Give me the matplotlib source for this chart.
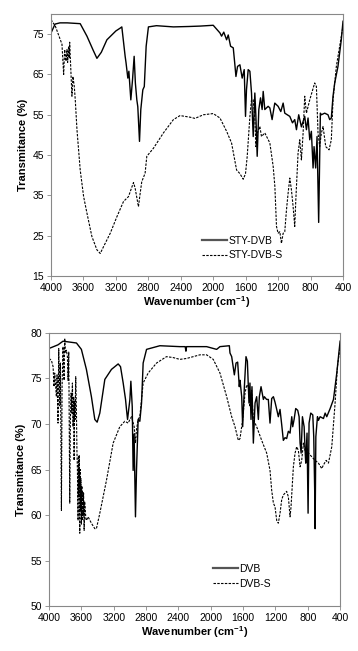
import matplotlib
matplotlib.use('Agg')
import matplotlib.pyplot as plt

plt.rcParams['font.family'] = ['Liberation Sans', 'DejaVu Sans']
plt.rcParams['mathtext.fontset'] = 'custom'
plt.rcParams['mathtext.rm'] = 'Liberation Sans'
plt.rcParams['mathtext.bf'] = 'Liberation Sans:bold'

# ---- top panel: STY-DVB / STY-DVB-S ----
sty_w = [4000, 3950, 3890, 3800, 3640, 3557, 3480, 3434, 3380, 3311, 3200, 3147, 3127,
         3086, 3075, 3053, 3040, 3016, 2995, 2975, 2960, 2942, 2930, 2909, 2893,
         2868, 2850, 2827, 2799, 2700, 2491, 2300, 2163, 2000, 1917, 1897, 1870,
         1835, 1815, 1786, 1753, 1733, 1720, 1700, 1671, 1643, 1618, 1602, 1590,
         1569, 1548, 1528, 1507, 1487, 1474, 1458, 1438, 1417, 1397, 1384, 1364,
         1323, 1302, 1274, 1261, 1241, 1200, 1167, 1138, 1118, 1056, 1023, 995,
         974, 946, 913, 872, 851, 831, 810, 790, 769, 757, 737, 720, 700, 679,
         667, 626, 585, 564, 544, 523, 502, 462, 421, 400]
sty_t = [75.3, 77.5, 77.8, 77.8, 77.6, 74.5, 71.0, 69.0, 70.5, 73.6, 75.8, 76.5, 76.8,
         69.5, 67.9, 64.1, 65.8, 58.7, 63.7, 69.5, 62.9, 58.7, 57.0, 48.4, 56.3,
         61.2, 62.0, 72.0, 76.8, 77.1, 76.8, 76.9, 77.0, 77.2, 75.3, 74.5, 75.5,
         73.6, 74.8, 72.0, 71.6, 67.4, 64.5, 67.0, 67.4, 64.1, 66.2, 54.6, 61.2,
         66.2, 65.8, 60.4, 49.6, 60.4, 54.6, 44.7, 56.3, 59.2, 56.3, 60.8, 56.3,
         57.1, 56.7, 53.8, 55.5, 57.9, 57.1, 55.8, 57.9, 55.4, 54.6, 53.0, 53.8,
         51.3, 55.0, 52.0, 54.6, 51.3, 54.2, 48.8, 50.9, 41.8, 47.1, 41.8, 49.6,
         28.3, 55.4, 55.0, 55.4, 55.0, 53.8, 54.2, 59.6, 62.9, 67.0, 73.6, 78.2]

stys_w = [4000, 3947, 3885, 3865, 3844, 3832, 3815, 3803, 3795, 3783, 3775, 3770,
          3742, 3730, 3713, 3701, 3680, 3660, 3640, 3598, 3557, 3496, 3434, 3393,
          3352, 3270, 3188, 3106, 3045, 2983, 2963, 2922, 2901, 2881, 2840, 2819,
          2737, 2614, 2491, 2409, 2286, 2225, 2122, 2000, 1917, 1835, 1774, 1712,
          1671, 1630, 1602, 1581, 1548, 1528, 1507, 1487, 1474, 1458, 1425, 1405,
          1364, 1302, 1261, 1240, 1220, 1200, 1179, 1159, 1138, 1118, 1097, 1077,
          1056, 1036, 1015, 995, 982, 954, 933, 913, 892, 872, 851, 810, 749, 728,
          708, 688, 667, 646, 613, 572, 544, 523, 482, 400]
stys_t = [78.6, 77.0, 73.6, 72.5, 65.0, 71.2, 68.3, 71.2, 68.0, 72.0, 69.0, 73.0,
          59.6, 64.5, 62.0, 58.7, 51.3, 46.3, 41.3, 34.7, 30.6, 24.8, 21.5, 20.6,
          22.3, 25.6, 29.7, 33.5, 34.7, 38.2, 36.8, 32.2, 35.5, 38.4, 40.5, 44.7,
          46.7, 50.5, 53.8, 54.8, 54.4, 54.1, 55.0, 55.3, 54.2, 50.9, 48.0, 41.3,
          40.4, 39.0, 40.4, 44.7, 54.6, 58.7, 58.7, 54.2, 47.1, 50.4, 52.1, 49.6,
          50.5, 48.0, 42.2, 37.2, 27.3, 25.6, 26.0, 23.1, 25.6, 26.0, 31.4, 35.5,
          39.3, 36.4, 32.2, 27.3, 33.8, 45.5, 48.8, 43.8, 50.4, 59.6, 55.4, 58.7,
          62.9, 62.0, 50.5, 47.1, 50.4, 52.1, 47.1, 46.3, 48.8, 58.7, 67.0, 77.0]

# ---- bottom panel: DVB / DVB-S ----
dvb_w = [4000, 3889, 3827, 3661, 3600, 3538, 3476, 3434, 3405, 3372, 3310, 3228,
         3145, 3116, 3083, 3054, 3042, 3029, 3000, 2988, 2971, 2960, 2948, 2931,
         2918, 2898, 2877, 2856, 2836, 2794, 2629, 2382, 2316, 2307, 2299, 2051,
         1927, 1886, 1770, 1762, 1741, 1708, 1687, 1667, 1647, 1638, 1617, 1605,
         1584, 1564, 1547, 1527, 1515, 1502, 1490, 1473, 1452, 1432, 1411, 1399,
         1378, 1349, 1337, 1309, 1288, 1267, 1246, 1225, 1205, 1184, 1164, 1143,
         1122, 1102, 1081, 1061, 1040, 1019, 998, 986, 969, 949, 924, 907, 895,
         882, 866, 845, 833, 825, 809, 796, 784, 763, 738, 726, 713, 709, 700,
         692, 680, 668, 647, 606, 585, 565, 523, 482, 441, 400]
dvb_t = [78.3, 78.7, 79.1, 78.9, 78.2, 76.0, 73.0, 70.5, 70.2, 71.2, 74.9, 76.0,
         76.6, 76.3, 74.5, 72.7, 71.6, 70.5, 72.7, 74.7, 71.9, 64.9, 68.9, 59.8,
         65.0, 70.5, 70.3, 72.3, 76.7, 78.2, 78.6, 78.5, 78.5, 78.0, 78.5, 78.5,
         78.2, 78.5, 78.6, 77.8, 77.4, 75.4, 76.7, 76.8, 74.1, 74.8, 73.0, 69.7,
         74.1, 77.4, 76.9, 72.3, 74.5, 70.5, 74.1, 67.9, 72.3, 73.0, 70.5, 73.0,
         74.1, 72.7, 73.0, 72.7, 72.7, 70.1, 72.8, 73.0, 72.4, 71.6, 70.8, 71.6,
         69.9, 68.2, 68.5, 68.4, 69.2, 69.0, 70.8, 69.7, 70.5, 71.7, 71.5, 70.8,
         67.9, 66.8, 70.8, 69.7, 67.1, 65.7, 69.0, 60.2, 70.1, 71.2, 71.0, 68.6,
         62.0, 58.5, 68.6, 69.5, 70.8, 70.4, 70.8, 70.6, 71.2, 70.8, 71.7, 72.7,
         75.6, 79.1]

dvbs_w = [4000, 3971, 3950, 3938, 3930, 3909, 3901, 3889, 3880, 3868, 3860, 3847,
          3839, 3827, 3814, 3806, 3798, 3785, 3773, 3765, 3756, 3744, 3736, 3727,
          3719, 3711, 3703, 3695, 3690, 3684, 3678, 3670, 3661, 3655, 3649, 3641,
          3636, 3633, 3626, 3620, 3615, 3612, 3606, 3600, 3594, 3587, 3583, 3579,
          3573, 3566, 3560, 3554, 3545, 3538, 3517, 3476, 3434, 3414, 3372, 3290,
          3207, 3125, 3063, 3021, 3000, 2980, 2947, 2931, 2918, 2898, 2877, 2836,
          2774, 2670, 2547, 2465, 2382, 2299, 2134, 2051, 1969, 1886, 1803, 1741,
          1700, 1659, 1638, 1605, 1576, 1555, 1535, 1515, 1494, 1473, 1432, 1370,
          1308, 1267, 1246, 1225, 1205, 1184, 1164, 1143, 1122, 1102, 1081, 1061,
          1040, 1019, 1007, 978, 957, 937, 916, 895, 875, 854, 833, 813, 792, 751,
          709, 668, 627, 606, 573, 544, 503, 462, 433, 400]
dvbs_t = [77.2, 77.0, 76.3, 74.1, 75.6, 73.0, 75.4, 70.1, 78.3, 72.0, 76.7, 60.5,
          74.1, 78.5, 74.8, 79.4, 77.8, 78.1, 77.4, 74.8, 77.9, 61.3, 70.5, 73.4,
          71.2, 74.5, 69.7, 73.0, 66.0, 72.5, 70.5, 75.2, 71.2, 67.0, 65.0, 59.4,
          66.5, 62.0, 66.6, 58.0, 65.0, 60.5, 64.0, 59.0, 63.2, 59.4, 62.5, 60.0,
          62.4, 58.3, 61.5, 60.9, 59.6, 59.4, 59.8, 59.1, 58.5, 58.5, 60.2, 63.8,
          67.9, 69.7, 70.3, 70.1, 70.5, 70.8, 69.7, 67.9, 69.4, 70.5, 70.8, 74.5,
          75.6, 76.7, 77.4, 77.3, 77.1, 77.2, 77.6, 77.6, 77.1, 75.6, 73.0, 70.8,
          69.7, 68.2, 68.4, 70.5, 73.4, 74.3, 74.1, 71.9, 73.7, 70.5, 69.7, 68.2,
          66.8, 64.9, 62.7, 61.3, 60.9, 59.4, 59.1, 60.2, 61.7, 62.2, 62.4, 62.6,
          62.0, 59.8, 60.9, 65.3, 66.8, 67.5, 67.1, 65.3, 66.0, 67.9, 67.1, 67.5,
          66.8, 66.4, 66.0, 65.7, 65.1, 65.5, 66.0, 65.7, 67.5, 72.3, 76.3, 78.5]

x_ticks = [4000, 3600, 3200, 2800, 2400, 2000, 1600, 1200, 800, 400]

fig = plt.figure(figsize=(3.58, 6.51), dpi=100)
ax1 = fig.add_axes([0.1425, 0.576, 0.8156, 0.4025])
ax2 = fig.add_axes([0.137, 0.0691, 0.813, 0.4194])

dash = (0, (2.2, 1.2))


def style(ax, ylim, yticks):
    ax.set_xlim(4000, 400)
    ax.set_ylim(*ylim)
    ax.set_xticks(x_ticks)
    ax.set_yticks(yticks)
    ax.tick_params(labelsize=7.5, direction='out', length=3, width=0.6, color='#888888', pad=2)
    for s in ax.spines.values():
        s.set_color('#888888')
        s.set_linewidth(0.8)
    ax.set_xlabel(r'Wavenumber (cm$^{\mathbf{-1}}$)', fontsize=8, fontweight='bold', labelpad=1)
    ax.set_ylabel('Transmitance (%)', fontsize=8, fontweight='bold', labelpad=3)


def add_legend(ax, anchor):
    leg = ax.legend(loc='lower left', bbox_to_anchor=anchor, frameon=False, fontsize=7.5,
                    handlelength=2.4, handletextpad=0.1, labelspacing=0.45, borderpad=0)
    leg.legend_handles[0].set_color('#555555')
    leg.legend_handles[0].set_linewidth(1.6)


ax1.plot(sty_w, sty_t, color='black', lw=1.0, label='STY-DVB')
ax1.plot(stys_w, stys_t, color='black', lw=0.8, linestyle=dash, label='STY-DVB-S')
style(ax1, (15, 80), [15, 25, 35, 45, 55, 65, 75])
add_legend(ax1, (0.5, 0.04))

ax2.plot(dvb_w, dvb_t, color='black', lw=1.0, label='DVB')
ax2.plot(dvbs_w, dvbs_t, color='black', lw=0.8, linestyle=dash, label='DVB-S')
style(ax2, (50, 80), [50, 55, 60, 65, 70, 75, 80])
add_legend(ax2, (0.545, 0.045))

fig.savefig('out.png', dpi=100)
